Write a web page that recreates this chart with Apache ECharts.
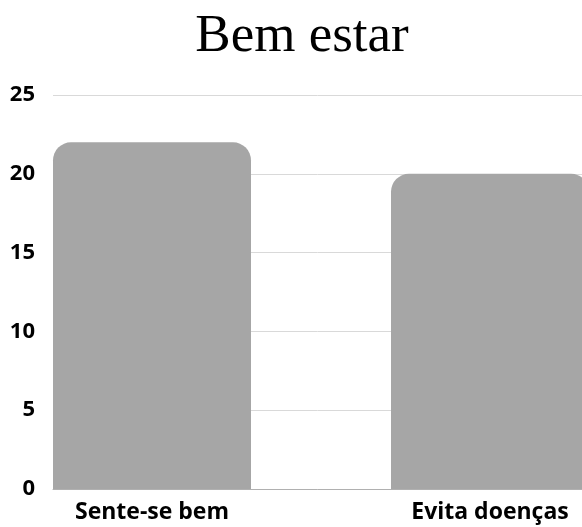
<!DOCTYPE html>
<html>
<head>
<meta charset="utf-8">
<script src="https://cdn.jsdelivr.net/npm/echarts@6/dist/echarts.min.js"></script>
<style>
html,body{margin:0;padding:0;background:#fff;}
#chart{width:582px;height:527px;}
</style>
</head>
<body>
<div id="chart"></div>
<script>
const title = "Bem estar";
const categories = ["Sente-se bem", "Evita doenças"];
const values = [22, 20];
const yMin = 0, yMax = 25, yStep = 5;

const chart = echarts.init(document.getElementById('chart'));
chart.setOption({
  animation: false,
  backgroundColor: '#ffffff',
  title: {
    text: title,
    left: 297,
    top: 6,
    textAlign: 'center',
    textStyle: { fontFamily: 'Liberation Serif', fontWeight: 'normal', fontSize: 53, color: '#000' }
  },
  grid: { left: 53, right: 0, top: 95, bottom: 38, containLabel: false },
  xAxis: {
    type: 'value',
    min: -0.2929,
    max: 1.2722,
    splitLine: { show: false },
    axisTick: { show: false },
    axisLine: { show: true, lineStyle: { color: '#b0b0b0', width: 1 } },
    axisLabel: {
      customValues: categories.map((c, i) => i),
      formatter: v => categories[Math.round(v)] || '',
      fontFamily: 'Open Sans', fontWeight: 'bold', fontSize: 23, color: '#000', margin: 12
    }
  },
  yAxis: {
    type: 'value',
    min: yMin, max: yMax, interval: yStep,
    axisLine: { show: false },
    axisTick: { show: false },
    splitLine: { lineStyle: { color: '#d9d9d9', width: 1 } },
    axisLabel: { fontFamily: 'Open Sans', fontWeight: 'bold', fontSize: 22, color: '#000', margin: 18 }
  },
  series: [{
    type: 'bar',
    data: values.map((v, i) => [i, v]),
    barWidth: 198,
    itemStyle: { color: '#a6a6a6', borderRadius: [18, 18, 0, 0] }
  }]
});
</script>
</body>
</html>
